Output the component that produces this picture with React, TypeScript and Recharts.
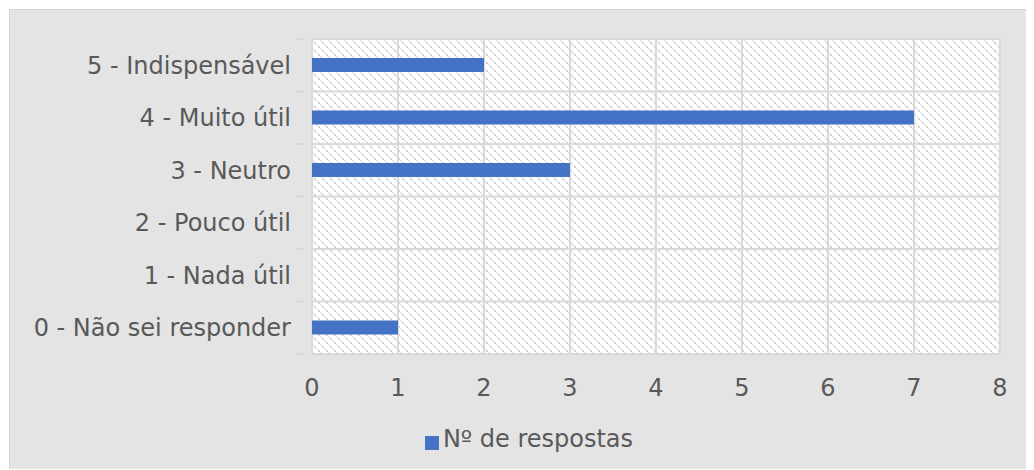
import { BarChart, Bar, XAxis, YAxis, CartesianGrid, Legend } from "recharts"

const categories = [
  "5 - Indispensável",
  "4 - Muito útil",
  "3 - Neutro",
  "2 - Pouco útil",
  "1 - Nada útil",
  "0 - Não sei responder",
]
const respostas = [2, 7, 3, 0, 0, 1]
const xTicks = [0, 1, 2, 3, 4, 5, 6, 7, 8]

const data = categories.map((name, i) => ({ name, respostas: respostas[i] }))

const textColor = "#595959"
const gridColor = "#d9d9d9"
const font = "Verdana, 'DejaVu Sans', sans-serif"
const fontSize = 24

// category ticks: label plus a short tick stub on the band edges
function CategoryTick(props: any) {
  const { x, y, payload, index } = props
  const half = payload.offset || 0
  const last = index === categories.length - 1
  return (
    <g>
      <text
        x={x - 13}
        y={y}
        dy="0.355em"
        textAnchor="end"
        fill={textColor}
        fontSize={fontSize}
        fontFamily={font}
      >
        {payload.value}
      </text>
      <line x1={x - 8} x2={x} y1={y - half} y2={y - half} stroke={gridColor} strokeWidth={2} />
      {last && <line x1={x - 8} x2={x} y1={y + half} y2={y + half} stroke={gridColor} strokeWidth={2} />}
    </g>
  )
}

export default function App() {
  return (
    <div
      style={{
        position: "relative",
        left: 1,
        top: 1,
        width: 1025,
        height: 461,
        boxSizing: "border-box",
        background: "#e4e4e4",
        borderLeft: "1px solid #d4d4d4",
        borderTop: "1px solid #d4d4d4",
        fontFamily: font,
      }}
    >
      <BarChart
        layout="vertical"
        width={1024}
        height={460}
        data={data}
        margin={{ top: 29, right: 34, left: 0, bottom: 17 }}
      >
        <defs>
          <pattern id="hatch" width="8" height="8" patternUnits="userSpaceOnUse">
            <rect width="8" height="8" fill="#ffffff" />
            <rect x="0" y="0" width="2" height="2" fill="#d2d2d2" />
            <rect x="2" y="2" width="2" height="2" fill="#e6e6e6" />
            <rect x="4" y="4" width="2" height="2" fill="#d2d2d2" />
            <rect x="6" y="6" width="2" height="2" fill="#e6e6e6" />
          </pattern>
        </defs>
        <CartesianGrid
          fill="url(#hatch)"
          stroke={gridColor}
          strokeWidth={2}
          horizontalCoordinatesGenerator={({ offset }: any) =>
            [0, ...categories.map((_, i) => i + 1)].map(
              (i) => offset.top + (i * offset.height) / categories.length
            )
          }
        />
        <XAxis
          type="number"
          domain={[0, 8]}
          ticks={xTicks}
          height={71}
          axisLine={false}
          tickLine={false}
          tickSize={0}
          tickMargin={25}
          tick={{ fill: textColor, fontSize, fontFamily: font }}
        />
        <YAxis
          type="category"
          dataKey="name"
          width={302}
          axisLine={false}
          tickLine={false}
          tick={<CategoryTick />}
        />
        <Legend
          verticalAlign="bottom"
          iconType="square"
          iconSize={14}
          wrapperStyle={{ left: 29, width: 990 }}
          formatter={(v) => <span style={{ color: textColor, fontSize, fontFamily: font }}>{v}</span>}
        />
        <Bar
          dataKey="respostas"
          name="Nº de respostas"
          fill="#4472c4"
          barSize={14}
          isAnimationActive={false}
        />
      </BarChart>
    </div>
  )
}
